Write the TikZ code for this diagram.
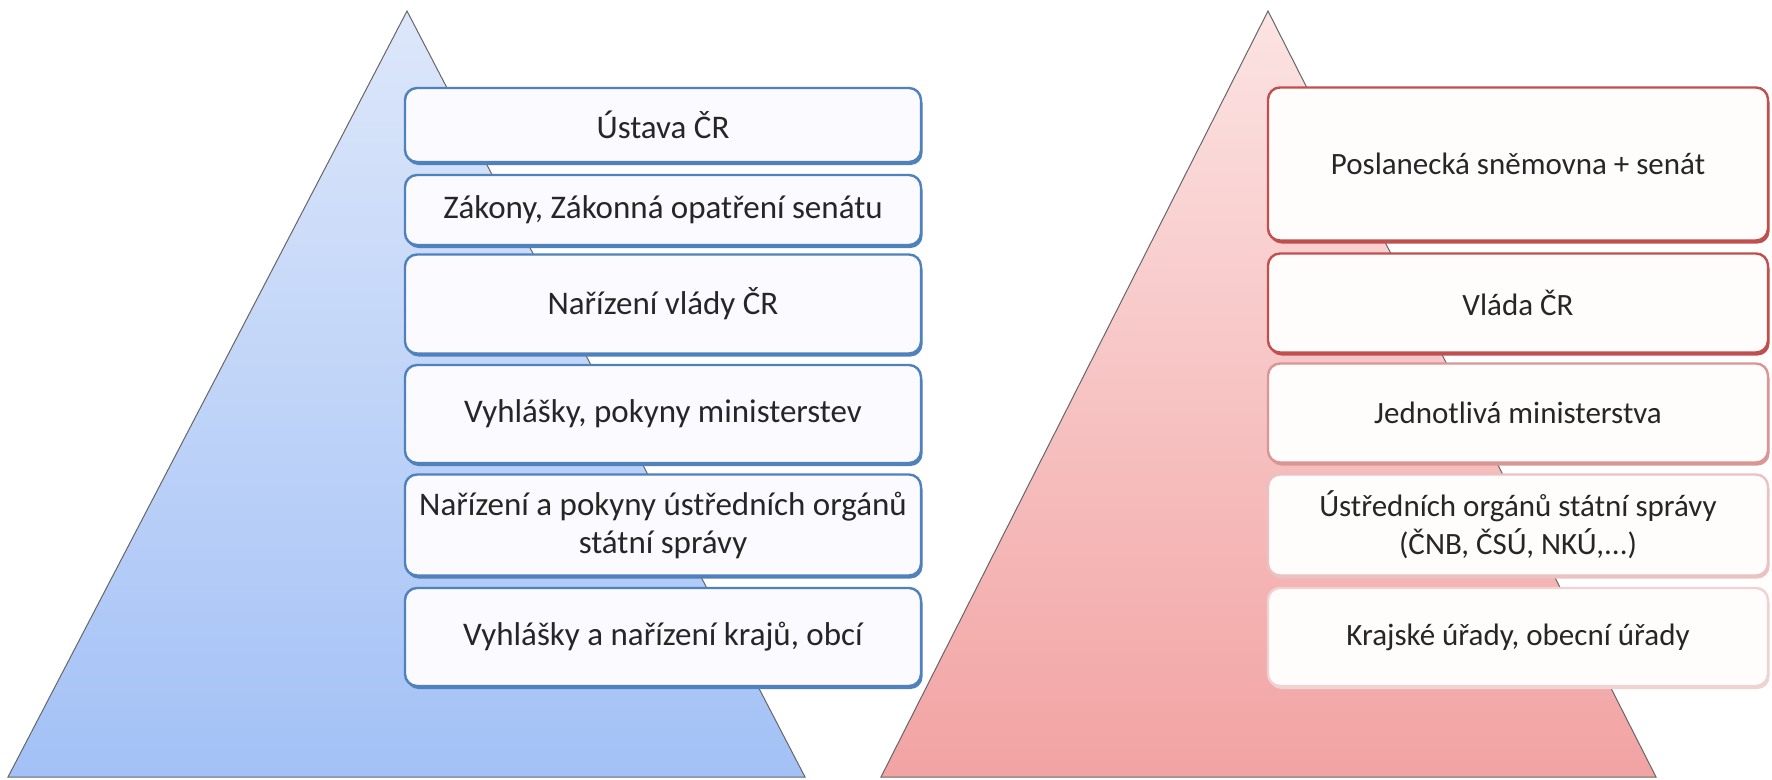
\documentclass[tikz,border=0pt]{standalone}
\usepackage{fontspec}
\setmainfont{Carlito}
\usetikzlibrary{shadows}
\definecolor{lawblue}{HTML}{4F81BD}
\definecolor{lawred}{HTML}{C0504D}
\definecolor{pyrblueT}{HTML}{DDE7FA}
\definecolor{pyrblueB}{HTML}{A3C1F6}
\definecolor{pyrredT}{HTML}{FCE3E3}
\definecolor{pyrredB}{HTML}{F2A3A3}

\begin{document}
\begin{tikzpicture}
[x = 1pt, y = -1pt, % one unit = one pixel, y downwards
pyramid/.style = {draw=black!60, line width=1pt}, % the two triangles
level/.style = {rectangle, rounded corners=12pt, line width=2.4pt,
  align=center, text=black!85, font=\fontsize{31}{38}\selectfont},
leftbox/.style = {level, draw=lawblue, fill=blue!2, minimum width=516pt,
  font=\fontsize{33}{38}\selectfont,
  drop shadow={shadow xshift=1.5pt, shadow yshift=-3pt, fill=lawblue, opacity=1}},
rightbox/.style = {level, draw=#1, fill=red!1, minimum width=500pt,
  drop shadow={shadow xshift=1.5pt, shadow yshift=-3pt, fill=#1, opacity=1}},
rightbox/.default = lawred]

\useasboundingbox (0,0) rectangle (1772,779);

% pyramids
\shadedraw[pyramid, top color=pyrblueT, bottom color=pyrblueB]
  (407,11) -- (805,777) -- (8,777) -- cycle;
\shadedraw[pyramid, top color=pyrredT, bottom color=pyrredB]
  (1268,11) -- (1656,777) -- (881,777) -- cycle;

% legal acts
\node[leftbox, minimum height=74pt] (l1) at (663,125) {Ústava ČR};
\node[leftbox, minimum height=70pt] (l2) at (663,210) {Zákony, Zákonná opatření senátu};
\node[leftbox, minimum height=99pt] (l3) at (663,304) {Nařízení vlády ČR};
\node[leftbox, minimum height=98pt] (l4) at (663,414) {Vyhlášky, pokyny ministerstev};
\node[leftbox, minimum height=101pt] (l5) at (663,525) {Nařízení a pokyny ústředních orgánů\\státní správy};
\node[leftbox, minimum height=98pt] (l6) at (663,637) {Vyhlášky a nařízení krajů, obcí};

% issuing bodies
\node[rightbox, minimum height=153pt] (r1) at (1518,164) {Poslanecká sněmovna + senát};
\node[rightbox, minimum height=99pt] (r2) at (1518,303) {Vláda ČR};
\node[rightbox=lawred!60, minimum height=99pt] (r3) at (1518,413) {Jednotlivá ministerstva};
\node[rightbox=lawred!35, minimum height=101pt] (r4) at (1518,525) {Ústředních orgánů státní správy\\(ČNB, ČSÚ, NKÚ,...)};
\node[rightbox=lawred!25, minimum height=98pt] (r5) at (1518,637) {Krajské úřady, obecní úřady};
\end{tikzpicture}
\end{document}
